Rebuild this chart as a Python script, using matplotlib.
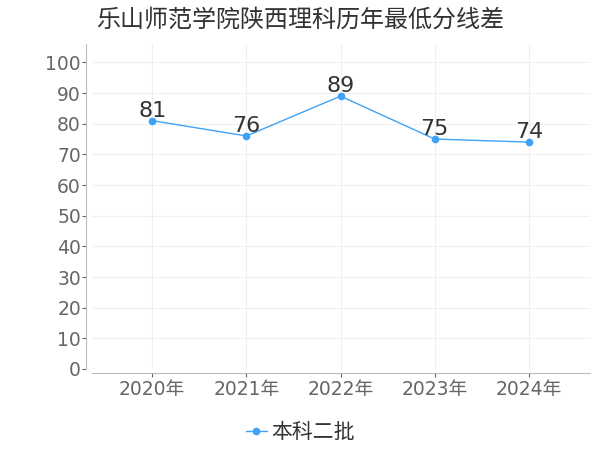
import matplotlib
matplotlib.use("Agg")
import matplotlib.pyplot as plt

plt.rcParams['font.family'] = ['DejaVu Sans', 'Noto Sans CJK SC']

years = ["2020年", "2021年", "2022年", "2023年", "2024年"]
values = [81, 76, 89, 75, 74]
series_name = "本科二批"
title = "乐山师范学院陕西理科历年最低分线差"

color = "#3fa2f7"

fig = plt.figure(figsize=(6, 4.5), dpi=100)
ax = fig.add_axes([92 / 600, 1 - 369 / 450, (590 - 92) / 600, (369 - 44) / 450])

x = list(range(len(years)))
ax.plot(x, values, color=color, linewidth=1, marker="o", markersize=4.5, label=series_name)
for xi, v in zip(x, values):
    ax.annotate(str(v), (xi, v), xytext=(0, 0), textcoords="offset points",
                ha="center", va="bottom", fontsize=16, color="#333333")

ax.set_xlim(-0.64, 4.65)
ax.set_ylim(0, 106)
ax.set_yticks(range(0, 101, 10))
ax.set_xticks(x)
ax.set_xticklabels(years)
ax.tick_params(axis="both", colors="#666666", labelsize=13.5, length=3, width=0.8)
ax.tick_params(axis="y", pad=1)
ax.tick_params(axis="x", pad=2)
for lbl in ax.get_yticklabels() + ax.get_xticklabels():
    lbl.set_color("#666666")

ax.grid(True, color="#f0f0f0", linewidth=0.8)
ax.set_axisbelow(True)
for s in ["top", "right"]:
    ax.spines[s].set_visible(False)
ax.spines["left"].set_position(("outward", 4))
ax.spines["bottom"].set_position(("outward", 3))
ax.spines["left"].set_color("#bbbbbb")
ax.spines["bottom"].set_color("#bbbbbb")

fig.text(0.5, 1 - 20 / 450, title, ha="center", va="center", fontsize=17.3,
         color="#333333", family=['Noto Sans CJK SC', 'DejaVu Sans'])

leg = fig.legend(loc="center", bbox_to_anchor=(0.5, 1 - 432 / 450), frameon=False,
                 handlelength=1.0, handletextpad=0.2,
                 prop={'family': ['Noto Sans CJK SC', 'DejaVu Sans'], 'size': 15})
for t in leg.get_texts():
    t.set_color("#333333")

fig.savefig("out.png", dpi=100)
